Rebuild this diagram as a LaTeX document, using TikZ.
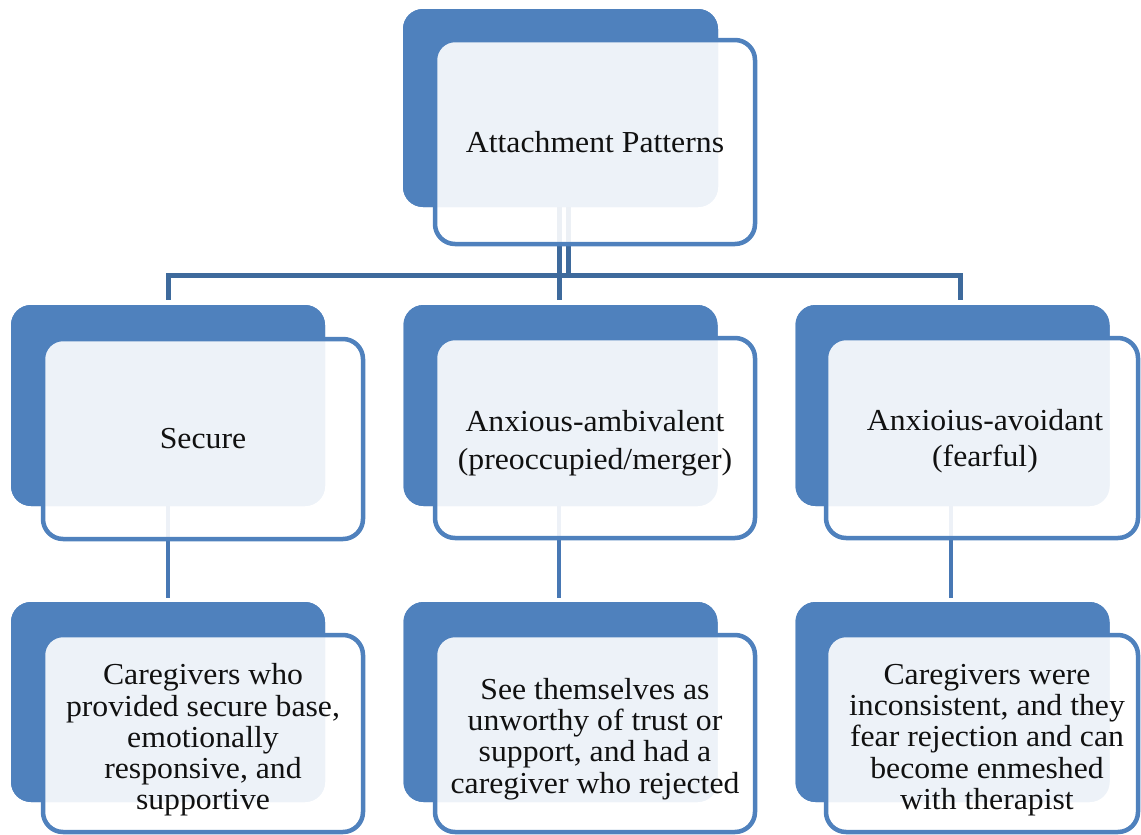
\documentclass[tikz,border=0pt]{standalone}
\usepackage{fontspec}
\setmainfont{Liberation Serif}[FakeStretch=1.04]
\usepackage{tikz}
\definecolor{accent}{HTML}{4F81BD}
\definecolor{topline}{HTML}{3E6A9C}
\definecolor{lowline}{HTML}{4878B4}
\definecolor{txt}{HTML}{111111}
\tikzset{
  backbox/.style={rectangle, rounded corners=20pt, fill=accent, draw=none,
    minimum width=314pt, minimum height=200pt, inner sep=0pt, outer sep=0pt},
  frontbox/.style={rectangle, rounded corners=20pt, fill=white, fill opacity=0.9,
    draw=accent, draw opacity=1, line width=4.5pt, text opacity=1, text=txt,
    minimum width=320pt, minimum height=200pt, inner sep=0pt, outer sep=0pt,
    align=center, font=\fontsize{30.5}{31.3}\selectfont},
  boxtext/.style={align=center, text=txt, inner sep=0pt, font=\fontsize{30.5}{31.3}\selectfont},
  topconn/.style={draw=topline, line width=5pt},
  lowconn/.style={draw=lowline, line width=4.5pt},
}
\begin{document}
\begin{tikzpicture}[x=1pt, y=-1pt]
\useasboundingbox (0,0) rectangle (1141,835);
\clip (0,0) rectangle (1141,835);
% back boxes
\node[backbox, minimum width=315pt, minimum height=198pt] (rootB) at (560.5,108) {};
\node[backbox, minimum height=201pt] (secB) at (168,405.5) {};
\node[backbox, minimum height=201pt] (ambB) at (560.5,405.5) {};
\node[backbox, minimum height=201pt] (avoB) at (952.5,405.5) {};
\node[backbox] (secC) at (168,702) {};
\node[backbox] (ambC) at (560.5,702) {};
\node[backbox] (avoC) at (952.5,702) {};
% connectors (under the front boxes)
\draw[topconn] ([xshift=7.5pt]rootB.south) -- ++(0,68) -| ([yshift=5pt]secB.north);
\draw[topconn] ([xshift=7.5pt]rootB.south) -- ++(0,68) -| ([xshift=7.5pt,yshift=5pt]avoB.north);
\draw[topconn] ([xshift=-1.5pt]rootB.south) -- ([xshift=-1.5pt,yshift=5pt]ambB.north);
\draw[lowconn] (secB.south) -- ([yshift=4pt]secC.north);
\draw[lowconn] ([xshift=-1.5pt]ambB.south) -- ([xshift=-1.5pt,yshift=4pt]ambC.north);
\draw[lowconn] ([xshift=-1.5pt]avoB.south) -- ([xshift=-1.5pt,yshift=4pt]avoC.north);
% redraw back boxes over the connector ends
\fill[accent, rounded corners=20pt] (rootB.north west) rectangle (rootB.south east);
\fill[accent, rounded corners=20pt] (secB.north west) rectangle (secB.south east);
\fill[accent, rounded corners=20pt] (ambB.north west) rectangle (ambB.south east);
\fill[accent, rounded corners=20pt] (avoB.north west) rectangle (avoB.south east);
\fill[accent, rounded corners=20pt] (secC.north west) rectangle (secC.south east);
\fill[accent, rounded corners=20pt] (ambC.north west) rectangle (ambC.south east);
\fill[accent, rounded corners=20pt] (avoC.north west) rectangle (avoC.south east);
% front boxes
\node[frontbox, minimum height=204pt] (root) at (595,142) {Attachment Patterns};
\node[frontbox] (sec) at (203,439) {Secure};
\node[frontbox] (amb) at (595,438) {};
\node[frontbox, minimum width=312pt] (avo) at (982,438) {};
\node[frontbox, minimum height=197pt] (secT) at (203,733.5) {};
\node[frontbox, minimum height=197pt] (ambT) at (595,733.5) {};
\node[frontbox, minimum width=312pt, minimum height=197pt] (avoT) at (982,733.5) {};
% texts
\node[boxtext, font=\fontsize{30.5}{38}\selectfont] (ambL) at (595,443) {Anxious-ambivalent\\(preoccupied/merger)};
\node[boxtext, font=\fontsize{30.5}{35.5}\selectfont] (avoL) at (985,441) {Anxioius-avoidant\\(fearful)};
\node[boxtext] (secTL) at (203,740) {Caregivers who\\provided secure base,\\emotionally\\responsive, and\\supportive};
\node[boxtext] (ambTL) at (595,739) {See themselves as\\unworthy of trust or\\support, and had a\\caregiver who rejected};
\node[boxtext] (avoTL) at (987,740) {Caregivers were\\inconsistent, and they\\fear rejection and can\\become enmeshed\\with therapist};
\end{tikzpicture}
\end{document}
